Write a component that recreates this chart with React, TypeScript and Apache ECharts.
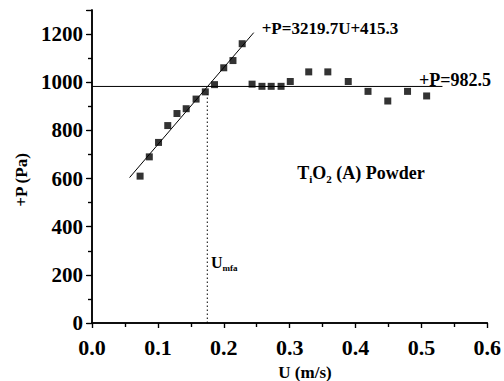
import React, { useEffect, useRef } from "react";
import * as echarts from "echarts";

const U = [0.073, 0.087, 0.101, 0.115, 0.129, 0.143, 0.158, 0.172, 0.186, 0.2, 0.214, 0.228, 0.243, 0.258, 0.272, 0.287, 0.301, 0.329, 0.358, 0.389, 0.419, 0.449, 0.479, 0.508];
const P = [610, 690, 750, 820, 870, 890, 930, 960, 990, 1060, 1090, 1160, 992, 983, 983, 983, 1003, 1043, 1043, 1003, 962, 922, 962, 943];

const fitLine = [[0.057, 604], [0.2455, 1206]];
const plateauLine = [[0.0, 982.5], [0.532, 982.5]];
const umfaLine = [[0.175, 0], [0.175, 950]];

const xTicks = ["0.0", "0.1", "0.2", "0.3", "0.4", "0.5", "0.6"];
const yTicks = ["0", "200", "400", "600", "800", "1000", "1200"];

const FONT = "Liberation Serif, serif";

export default function App() {
  const ref = useRef<HTMLDivElement>(null);
  useEffect(() => {
    if (!ref.current) return;
    const chart = echarts.init(ref.current, null, { renderer: "svg" });
    const axisLine = { show: true, lineStyle: { color: "#000", width: 1.5 } };
    chart.setOption({
      animation: false,
      backgroundColor: "#fff",
      textStyle: { fontFamily: FONT },
      grid: { left: 92, right: 13, top: 10, bottom: 58 },
      xAxis: [
        {
          type: "value",
          min: 0,
          max: 0.6,
          interval: 0.1,
          position: "bottom",
          axisLine,
          axisTick: { show: true, inside: false, length: 5, lineStyle: { color: "#000", width: 1.2 } },
          minorTick: { show: true, splitNumber: 2, length: 4, lineStyle: { color: "#000", width: 1.2 } },
          splitLine: { show: false },
          axisLabel: {
            margin: 13,
            color: "#000",
            fontFamily: FONT,
            fontWeight: "bold",
            fontSize: 22,
            formatter: (v: number) => xTicks[Math.round(v * 10)] ?? "",
          },
        },
        {
          type: "value",
          min: 0,
          max: 0.6,
          interval: 0.1,
          position: "top",
          axisLine,
          axisTick: { show: true, inside: true, length: 5, lineStyle: { color: "#000", width: 1.2 } },
          minorTick: { show: true, splitNumber: 2, length: 4, lineStyle: { color: "#000", width: 1.2 } },
          splitLine: { show: false },
          axisLabel: { show: false },
        },
      ],
      yAxis: [
        {
          type: "value",
          min: 0,
          max: 1300,
          interval: 200,
          position: "left",
          axisLine,
          axisTick: { show: true, inside: false, length: 6, lineStyle: { color: "#000", width: 1.2 } },
          minorTick: { show: true, splitNumber: 2, length: 4, lineStyle: { color: "#000", width: 1.2 } },
          splitLine: { show: false },
          axisLabel: {
            margin: 9,
            color: "#000",
            fontFamily: FONT,
            fontWeight: "bold",
            fontSize: 21,
            showMaxLabel: false,
            formatter: (v: number) => yTicks[Math.round(v / 200)] ?? "",
          },
        },
        {
          type: "value",
          min: 0,
          max: 1300,
          interval: 200,
          position: "right",
          axisLine,
          axisTick: { show: true, inside: true, length: 5, lineStyle: { color: "#000", width: 1.2 } },
          minorTick: { show: true, splitNumber: 2, length: 4, lineStyle: { color: "#000", width: 1.2 } },
          splitLine: { show: false },
          axisLabel: { show: false },
        },
      ],
      series: [
        {
          type: "line",
          data: fitLine,
          symbol: "none",
          lineStyle: { color: "#000", width: 1 },
          z: 2,
        },
        {
          type: "line",
          data: plateauLine,
          symbol: "none",
          lineStyle: { color: "#000", width: 1 },
          z: 2,
        },
        {
          type: "line",
          data: umfaLine,
          symbol: "none",
          lineStyle: { color: "#000", width: 1, type: [1.5, 2.5] },
          z: 2,
        },
        {
          type: "scatter",
          data: U.map((u, i) => [u, P[i]]),
          symbol: "rect",
          symbolSize: 7,
          itemStyle: { color: "#000" },
          z: 3,
        },
      ],
      graphic: [
        {
          type: "text",
          x: 330,
          y: 28,
          style: {
            text: "+P=3219.7U+415.3",
            fontFamily: FONT,
            fontWeight: "bold",
            fontSize: 17,
            fill: "#000",
            textAlign: "center",
            textVerticalAlign: "middle",
          },
        },
        {
          type: "text",
          x: 455,
          y: 80,
          style: {
            text: "+P=982.5",
            fontFamily: FONT,
            fontWeight: "bold",
            fontSize: 18,
            fill: "#000",
            textAlign: "center",
            textVerticalAlign: "middle",
          },
        },
        {
          type: "text",
          x: 361,
          y: 173,
          style: {
            text: "{a|T}{s|i}{a|O}{s|2}{a| (A) Powder}",
            textAlign: "center",
            textVerticalAlign: "middle",
            rich: {
              a: { fontFamily: FONT, fontWeight: "bold", fontSize: 18, lineHeight: 22, fill: "#000" },
              s: { fontFamily: FONT, fontWeight: "bold", fontSize: 11, lineHeight: 22, verticalAlign: "bottom", fill: "#000" },
            },
          },
        },
        {
          type: "text",
          x: 211,
          y: 262,
          style: {
            text: "{a|U}{s|mfa}",
            textAlign: "left",
            textVerticalAlign: "middle",
            rich: {
              a: { fontFamily: FONT, fontWeight: "bold", fontSize: 16, lineHeight: 20, fill: "#000" },
              s: { fontFamily: FONT, fontWeight: "bold", fontSize: 9, lineHeight: 20, verticalAlign: "bottom", fill: "#000" },
            },
          },
        },
        {
          type: "text",
          x: 21,
          y: 180,
          rotation: Math.PI / 2,
          style: {
            text: "+P (Pa)",
            fontFamily: FONT,
            fontWeight: "bold",
            fontSize: 17,
            fill: "#000",
            textAlign: "center",
            textVerticalAlign: "middle",
          },
        },
        {
          type: "text",
          x: 305,
          y: 372,
          style: {
            text: "U (m/s)",
            fontFamily: FONT,
            fontWeight: "bold",
            fontSize: 17,
            fill: "#000",
            textAlign: "center",
            textVerticalAlign: "middle",
          },
        },
      ],
    });
    return () => chart.dispose();
  }, []);
  return <div ref={ref} style={{ width: 504, height: 381, position: "absolute", left: 0, top: 0 }} />;
}
